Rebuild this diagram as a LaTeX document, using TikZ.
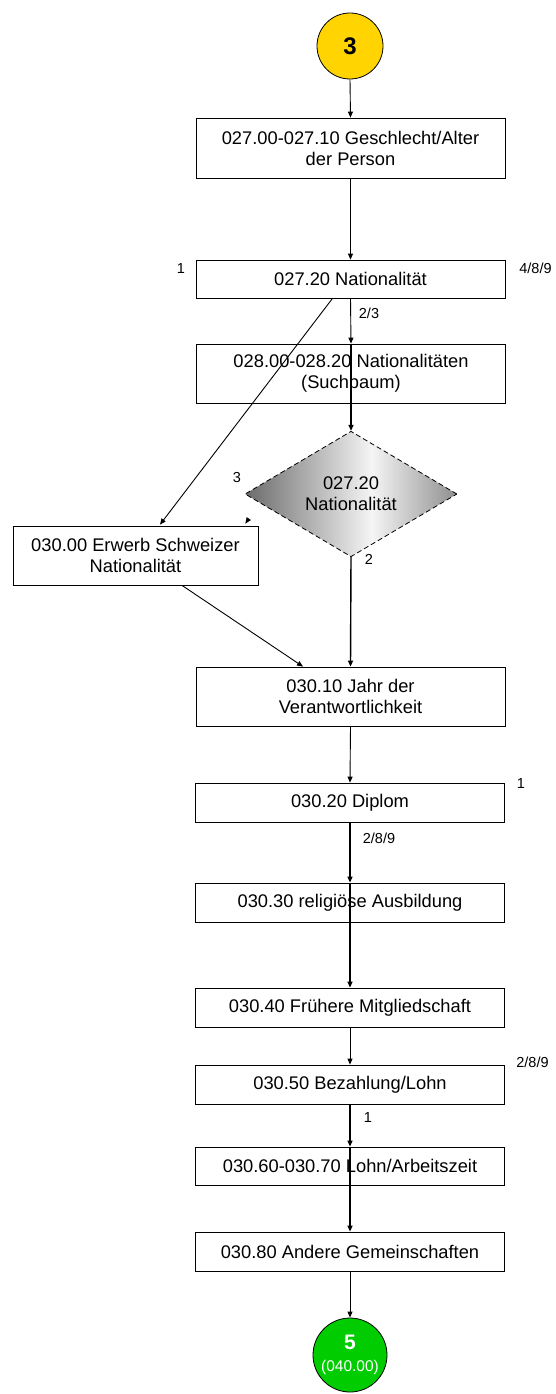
\documentclass[tikz,border=0pt]{standalone}
\usepackage{fontspec}
\setmainfont{Liberation Sans}
\usetikzlibrary{shapes.geometric,arrows.meta,calc}
\definecolor{cyellow}{RGB}{255,212,0}
\definecolor{cgreen}{RGB}{0,204,0}
\begin{document}
\begin{tikzpicture}[x=1pt,y=-1pt,
  box/.style={draw, fill=white, line width=0.8pt, minimum width=309pt, inner sep=0pt,
    align=center, font=\fontsize{18.3}{21}\selectfont},
  lab/.style={inner sep=0pt, font=\fontsize{14.5}{16}\selectfont},
  arr/.style={line width=0.9pt, -{Triangle[length=6pt,width=5pt]}},
  tarr/.style={line width=1.4pt, -{Triangle[length=6pt,width=5pt]}},
  term/.style={circle, draw, line width=0.8pt, inner sep=0pt, align=center},
  decision/.style={diamond, draw, dash pattern=on 5pt off 3pt, line width=0.8pt,
    minimum width=212pt, minimum height=102pt, inner sep=0pt,
    align=center, font=\fontsize{18.3}{21}\selectfont,
    path picture={\shade[shading=axis, left color=black!58, right color=black!64,
      middle color=black!4, shading angle=90]
      ($(path picture bounding box.south west)+(0,20)$) rectangle
      ($(path picture bounding box.north east)+(42,-20)$);}}]
\useasboundingbox (0,0) rectangle (556,1394);

% nodes
\node[term, fill=cyellow, minimum size=66pt, font=\fontsize{24}{26}\bfseries] (c3) at (350,46) {3};
\node[box, minimum height=60pt] (b1) at (350.5,148) {027.00-027.10 Geschlecht/Alter\\der Person};
\node[box, minimum height=38pt] (nat) at (350.5,279) {027.20 Nationalität};
\node[box, minimum height=59pt] (b028) at (351,373.5) {028.00-028.20 Nationalitäten\\(Suchbaum)};
\node[decision] (dia) at (351,494) {027.20\\Nationalität};
\node[box, minimum width=245pt, minimum height=59pt] (erw) at (135.5,555.5) {030.00 Erwerb Schweizer\\Nationalität};
\node[box, minimum height=59pt] (jahr) at (350.5,696.5) {030.10 Jahr der\\Verantwortlichkeit};
\node[box, minimum height=39pt] (dip) at (350,802.5) {030.20 Diplom};
\node[box, minimum height=39pt] (rel) at (350,902.5) {030.30 religiöse Ausbildung};
\node[box, minimum height=39pt] (fru) at (350,1007.5) {030.40 Frühere Mitgliedschaft};
\node[box, minimum height=39pt] (bez) at (350,1084.5) {030.50 Bezahlung/Lohn};
\node[box, minimum height=38pt] (lohn) at (350,1166) {030.60-030.70 Lohn/Arbeitszeit};
\node[box, minimum height=39pt] (and) at (350,1251.5) {030.80 Andere Gemeinschaften};
\node[term, fill=cgreen, minimum size=74pt, text=white, font=\fontsize{21}{22}\selectfont] (c5) at (350,1355)
  {\textbf{5}\\{\fontsize{15.5}{16}\selectfont (040.00)}};

% labels
\node[lab] (l1) at (181,269) {1};
\node[lab] (l2) at (535.5,268) {4/8/9};
\node[lab] (l3) at (369,313) {2/3};
\node[lab] (l4) at (237,478) {3};
\node[lab] (l5) at (369,559) {2};
\node[lab] (l6) at (521,784) {1};
\node[lab] (l7) at (379,838) {2/8/9};
\node[lab] (l8) at (532.5,1062) {2/8/9};
\node[lab] (l9) at (368,1117) {1};

% coordinates
\coordinate (na) at ($(nat.south)+(-18,0)$);
\coordinate (ea) at ($(erw.north)+(24.5,-1)$);
\coordinate (eb) at ($(erw.south)+(46.5,0)$);
\coordinate (ja) at ($(jahr.north)+(-47.5,0)$);
\coordinate (t1) at ($(erw.north east)+(-11,-5)$);
\coordinate (t2) at ($(erw.north east)+(-13,-2)$);

% connectors
\draw[arr] (c3.south) -- (b1.north);
\draw[arr] (b1.south) -- (nat.north);
\draw[arr] (nat.south) -- (b028.north);
\draw[tarr] (b028.north) -- (dia.north);
\draw[arr] (na) -- (ea);
\draw[arr, line width=0.4pt] (t1) -- (t2);
\draw[tarr] (dia.south) -- (jahr.north);
\draw[arr] (eb) -- (ja);
\draw[arr] (jahr.south) -- (dip.north);
\draw[tarr] (dip.south) -- (rel.north);
\draw[tarr] (rel.north) -- (fru.north);
\draw[arr] (fru.south) -- (bez.north);
\draw[tarr] (bez.south) -- (lohn.north);
\draw[tarr] (lohn.north) -- (and.north);
\draw[arr] (and.south) -- (c5.north);
\end{tikzpicture}
\end{document}
